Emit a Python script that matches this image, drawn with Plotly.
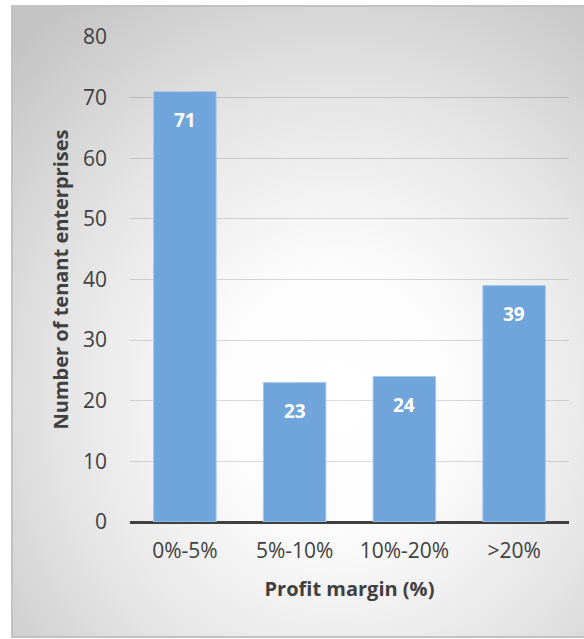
import base64
import plotly.graph_objects as go

# Survey counts by profit-margin band
categories = ["0%-5%", "5%-10%", "10%-20%", ">20%"]
counts = [71, 23, 24, 39]
y_ticks = [0, 10, 20, 30, 40, 50, 60, 70, 80]

W, H = 584, 639
M_L, M_R, M_T, M_B = 130, 15, 37, 117
PLOT_W = W - M_L - M_R
PLOT_H = H - M_T - M_B


def px_x(px):
    return (px - M_L) / PLOT_W


def px_y(py):
    return (H - M_B - py) / PLOT_H


# Soft radial gradient for the chart frame background
svg = """<svg xmlns='http://www.w3.org/2000/svg' width='600' height='640' preserveAspectRatio='none'>
<defs><radialGradient id='g' cx='0.56' cy='0.62' r='0.78' fx='0.56' fy='0.62'>
<stop offset='0' stop-color='#ffffff'/>
<stop offset='0.25' stop-color='#fdfdfd'/>
<stop offset='0.6' stop-color='#e6e6e6'/>
<stop offset='1' stop-color='#c4c4c4'/>
</radialGradient></defs>
<rect width='600' height='640' fill='url(#g)'/></svg>"""
bg_src = "data:image/svg+xml;base64," + base64.b64encode(svg.encode()).decode()

FX0, FX1, FY0, FY1 = 12, 592, 6, 637

fig = go.Figure()
fig.add_trace(go.Bar(
    x=categories,
    y=counts,
    marker=dict(color="#6fa5da", line=dict(color="#a8c9ea", width=1)),
    width=0.57,
    hoverinfo="x+y",
))

# Value labels just inside the top of each bar
for c, v in zip(categories, counts):
    fig.add_annotation(
        x=c, y=v, xref="x", yref="y",
        text=f"<b>{v}</b>", showarrow=False,
        yanchor="middle", yshift=-28,
        font=dict(family="Open Sans", size=19, color="#ffffff"),
    )

fig.update_layout(
    width=W, height=H,
    margin=dict(l=M_L, r=M_R, t=M_T, b=M_B, pad=0),
    paper_bgcolor="#ffffff",
    plot_bgcolor="rgba(0,0,0,0)",
    showlegend=False,
    font=dict(family="Open Sans", color="#404040"),
    images=[dict(
        source=bg_src, xref="paper", yref="paper",
        x=px_x(FX0), y=px_y(FY0),
        sizex=px_x(FX1) - px_x(FX0), sizey=px_y(FY0) - px_y(FY1),
        xanchor="left", yanchor="top", sizing="stretch", layer="below",
    )],
    shapes=[dict(
        type="rect", xref="paper", yref="paper",
        x0=px_x(FX0), x1=px_x(FX1), y0=px_y(FY1), y1=px_y(FY0),
        line=dict(color="#c2c2c2", width=2), fillcolor="rgba(0,0,0,0)",
        layer="below",
    )],
    xaxis=dict(
        showgrid=False, showline=False, ticks="",
        tickfont=dict(size=21, color="#404040"),
        ticklabelstandoff=14,
        title=dict(text="<b>Profit margin (%)</b>", font=dict(size=20, color="#404040"), standoff=18),
    ),
    yaxis=dict(
        range=[0, 80], tickvals=y_ticks,
        showgrid=True, gridcolor="rgba(0,0,0,0.14)", gridwidth=1,
        zeroline=True, zerolinecolor="#404040", zerolinewidth=3,
        showline=False, ticks="",
        tickfont=dict(size=21, color="#404040"),
        ticklabelstandoff=22,
        title=dict(text="<b>Number of tenant enterprises</b>", font=dict(size=20, color="#404040"), standoff=8),
    ),
)

fig.write_html("out.html")
